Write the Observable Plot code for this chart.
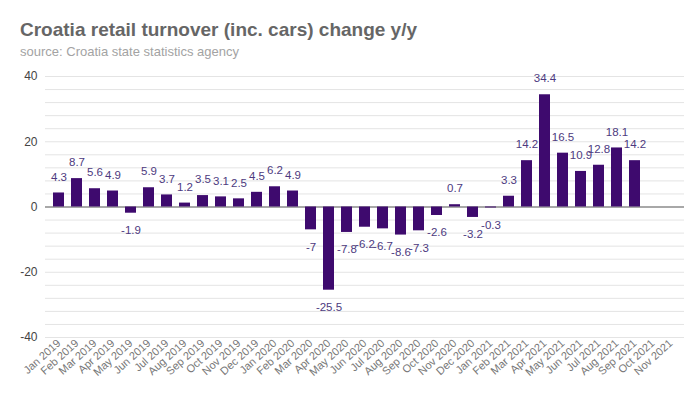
<!DOCTYPE html>
<html>
<head>
<meta charset="utf-8">
<script src="https://cdn.jsdelivr.net/npm/d3@7"></script>
<script src="https://cdn.jsdelivr.net/npm/@observablehq/plot@0.6"></script>
<style>
  html, body { margin: 0; padding: 0; background: #fff; }
  #wrap { width: 700px; height: 400px; position: relative; overflow: hidden; font-family: "Liberation Sans", Arial, sans-serif; }
  #title { position: absolute; left: 20px; top: 18px; font-size: 19px; font-weight: bold; color: #666; line-height: 24px; white-space: nowrap; }
  #subtitle { position: absolute; left: 20px; top: 44px; font-size: 13px; color: #a3a3a3; line-height: 16px; white-space: nowrap; }
  #chart { position: absolute; left: 0; top: 60px; }
</style>
</head>
<body>
<div id="wrap">
  <div id="title">Croatia retail turnover (inc. cars) change y/y</div>
  <div id="subtitle">source: Croatia state statistics agency</div>
  <div id="chart"></div>
</div>
<script>
const months = [
  "Jan 2019","Feb 2019","Mar 2019","Apr 2019","May 2019","Jun 2019","Jul 2019","Aug 2019","Sep 2019","Oct 2019","Nov 2019","Dec 2019",
  "Jan 2020","Feb 2020","Mar 2020","Apr 2020","May 2020","Jun 2020","Jul 2020","Aug 2020","Sep 2020","Oct 2020","Nov 2020","Dec 2020",
  "Jan 2021","Feb 2021","Mar 2021","Apr 2021","May 2021","Jun 2021","Jul 2021","Aug 2021","Sep 2021","Oct 2021","Nov 2021"
];
const values = [
  4.3, 8.7, 5.6, 4.9, -1.9, 5.9, 3.7, 1.2, 3.5, 3.1, 2.5, 4.5,
  6.2, 4.9, -7, -25.5, -7.8, -6.2, -6.7, -8.6, -7.3, -2.6, 0.7, -3.2,
  -0.3, 3.3, 14.2, 34.4, 16.5, 10.9, 12.8, 18.1, 14.2
];
const yTicks = [-40, -20, 0, 20, 40];
const gridValues = d3.range(-40, 41, 4);

const data = values.map((v, i) => ({month: months[i], value: v}));
const pos = data.filter(d => d.value >= 0);
const neg = data.filter(d => d.value < 0);

const barColor = "#3e0a6e";
const labelColor = "#4d3a80";

const chart = Plot.plot({
  width: 700,
  height: 340,
  marginTop: 16,
  marginBottom: 63,
  marginLeft: 45,
  marginRight: 16,
  style: {fontFamily: "'Liberation Sans', Arial, sans-serif", background: "transparent"},
  x: {domain: months, padding: 0.4, label: null},
  y: {domain: [-40, 40], label: null},
  marks: [
    Plot.ruleY(gridValues, {stroke: "#e4e4e4", strokeWidth: 1}),
    Plot.ruleY([0], {stroke: "#8f8f8f", strokeWidth: 1.3}),
    Plot.barY(data, {x: "month", y: "value", fill: barColor}),
    Plot.text(pos, {x: "month", y: "value", text: d => String(d.value), dy: -16, fill: labelColor, fontSize: 11.5}),
    Plot.text(neg, {x: "month", y: "value", text: d => String(d.value), dy: 17, fill: labelColor, fontSize: 11.5}),
    Plot.axisY({ticks: yTicks, tickSize: 0, tickPadding: 8, fontSize: 12, color: "#444", tickFormat: d => String(d), label: null}),
    Plot.axisX({tickRotate: -42, tickSize: 0, tickPadding: 4, fontSize: 11, color: "#777", label: null})
  ]
});
document.getElementById("chart").appendChild(chart);
</script>
</body>
</html>
